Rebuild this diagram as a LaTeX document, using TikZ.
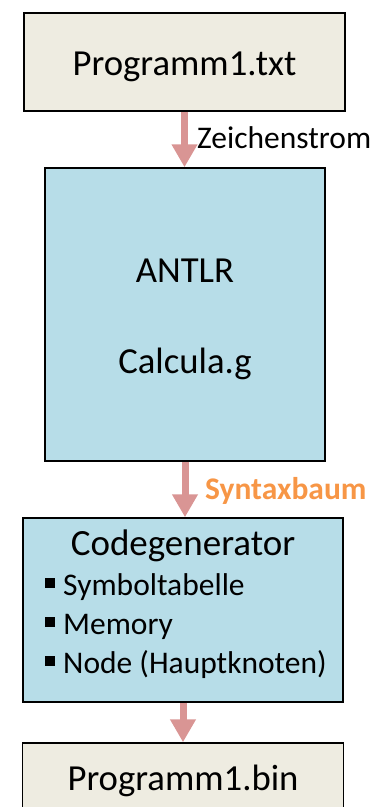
\documentclass[tikz,border=0pt]{standalone}
\usepackage{fontspec}
\setmainfont{Carlito}
\definecolor{cgBeige}{HTML}{EEECE1}
\definecolor{cgBlue}{HTML}{B7DDE8}
\definecolor{cgPink}{HTML}{D99594}
\definecolor{cgOrange}{HTML}{F79646}
\usetikzlibrary{arrows.meta,calc}

\begin{document}
\begin{tikzpicture}[
  x=1pt,y=-1pt,
  box/.style={draw=black,line width=1.5pt,inner sep=0pt},
  filebox/.style={box,fill=cgBeige,minimum width=321pt,font=\fontsize{36.7}{44}\selectfont,text height=26pt,text depth=0pt},
  toolbox/.style={box,fill=cgBlue},
  big/.style={font=\fontsize{36.7}{44}\selectfont,anchor=base,inner sep=0pt},
  flow/.style={draw=cgPink,line width=7pt,-{Triangle[length=23pt,width=24.5pt]}},
  lbl/.style={font=\fontsize{31.5}{38}\selectfont,anchor=base west,inner sep=0pt}
]
\useasboundingbox (0,0) rectangle (375,807);
% source and result files
\node[filebox,minimum height=98pt] (src) at (184.5,62) {Programm1.txt};
\node[filebox,minimum height=68pt] (bin) at (183,777) {Programm1.bin};
% parser generator
\node[toolbox,minimum width=280pt,minimum height=293pt] (antlr) at (185,314.5) {};
\node[big] (tool) at (185,282) {ANTLR};
\node[big] (grammar) at (185,373) {Calcula.g};
% code generator
\node[toolbox,minimum width=320pt,minimum height=184pt] (codegen) at (183,610) {};
\node[big,font=\fontsize{37}{44}\selectfont] (cgtitle) at (183,555) {Codegenerator};
\foreach \i/\entry in {0/Symboltabelle,1/Memory,2/Node (Hauptknoten)}
{
  \node[lbl] (entry\i) at (45,{595+\i*39}) {\makebox[18pt][l]{\rule[7pt]{10pt}{10pt}}\entry};
}
% data flow
\draw[flow] (src.south) -- (src.south |- antlr.north);
\draw[flow] (antlr.south) -- (antlr.south |- codegen.north);
\draw[flow] (codegen.south) -- (codegen.south |- bin.north);
\node[lbl] (chars) at (197,148) {Zeichenstrom};
\node[lbl,text=cgOrange,font=\fontsize{31.5}{38}\selectfont\bfseries] (tree) at (205,499) {Syntaxbaum};
\end{tikzpicture}
\end{document}
